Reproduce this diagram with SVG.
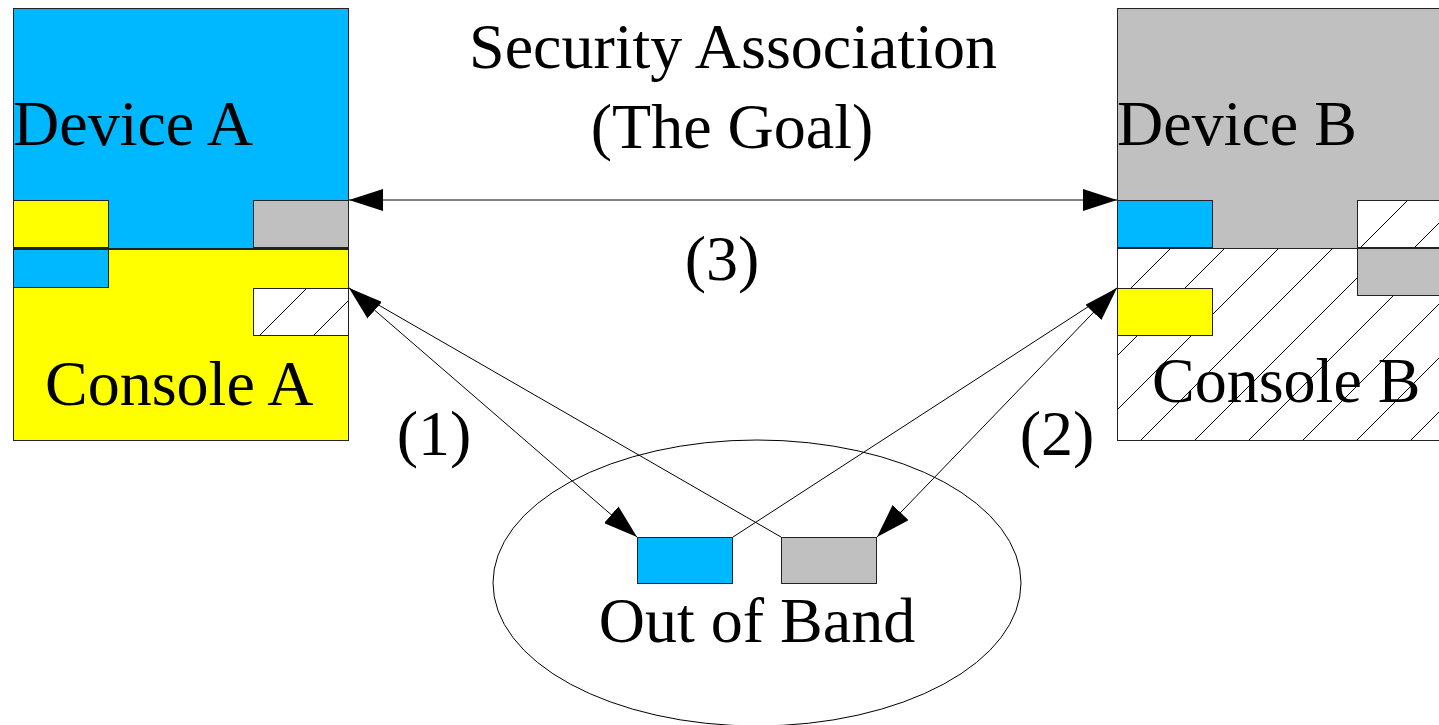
<svg xmlns="http://www.w3.org/2000/svg" width="1439" height="725" viewBox="0 0 1439 725">
<style>
  .t { font-family: "Liberation Serif", "Times New Roman", serif; font-size: 64px; fill: #000; }
  .m { text-anchor: middle; }
  .box { stroke: #222; stroke-width: 1; }
  .blue { fill: #00b8ff; }
  .yellow { fill: #ffff00; }
  .gray { fill: #c0c0c0; }
  .conn { stroke: #000; stroke-width: 1; fill: none; }
</style>
<defs>
  <pattern id="hatchA" patternUnits="userSpaceOnUse" x="1" y="0" width="54" height="54">
    <rect width="54" height="54" fill="#fff"/>
    <path d="M-5,5 L5,-5 M0,54 L54,0 M49,59 L59,49" stroke="#000" stroke-width="1"/>
  </pattern>
  <pattern id="hatchB" patternUnits="userSpaceOnUse" x="15" y="0" width="54" height="54">
    <rect width="54" height="54" fill="#fff"/>
    <path d="M-5,5 L5,-5 M0,54 L54,0 M49,59 L59,49" stroke="#000" stroke-width="1"/>
  </pattern>
  <pattern id="hatchC" patternUnits="userSpaceOnUse" x="42" y="0" width="54" height="54">
    <rect width="54" height="54" fill="#fff"/>
    <path d="M-5,5 L5,-5 M0,54 L54,0 M49,59 L59,49" stroke="#000" stroke-width="1"/>
  </pattern>
  <marker id="arr" markerUnits="userSpaceOnUse" markerWidth="34" markerHeight="22" refX="34" refY="11" orient="auto-start-reverse">
    <path d="M0,0 L34,11 L0,22 z" fill="#000"/>
  </marker>
</defs>

<g id="device-a">
  <rect class="box blue" x="13.5" y="8.5" width="335" height="240"/>
  <rect class="box yellow" x="13.5" y="200.5" width="95" height="47"/>
  <rect class="box gray" x="253.5" y="200.5" width="95" height="47"/>
  <text class="t" x="13" y="145">Device A</text>
</g>

<g id="console-a">
  <rect class="box yellow" x="13.5" y="249.5" width="335" height="191"/>
  <rect class="box blue" x="13.5" y="249.5" width="95" height="38"/>
  <rect class="box" fill="url(#hatchA)" x="253.5" y="288.5" width="95" height="47"/>
  <text class="t" x="45" y="405">Console A</text>
</g>

<g id="device-b">
  <rect class="box gray" x="1117.5" y="8.5" width="330" height="240"/>
  <rect class="box blue" x="1117.5" y="200.5" width="95" height="47"/>
  <rect class="box" fill="url(#hatchC)" x="1357.5" y="200.5" width="95" height="47"/>
  <text class="t" x="1117" y="145">Device B</text>
</g>

<g id="console-b">
  <rect class="box" fill="url(#hatchB)" x="1117.5" y="248.5" width="330" height="192"/>
  <rect class="box gray" x="1357.5" y="248.5" width="95" height="47"/>
  <rect class="box yellow" x="1117.5" y="288.5" width="95" height="47"/>
  <text class="t" x="1152" y="402">Console B</text>
</g>

<g id="out-of-band">
  <ellipse class="conn" cx="757" cy="583" rx="264" ry="143"/>
  <rect class="box blue" x="637.5" y="537.5" width="95" height="46"/>
  <rect class="box gray" x="781.5" y="537.5" width="95" height="46"/>
  <text class="t m" x="757" y="642">Out of Band</text>
</g>

<g id="connectors">
  <line class="conn" x1="349" y1="200" x2="1117" y2="200" marker-start="url(#arr)" marker-end="url(#arr)"/>
  <line class="conn" x1="349" y1="288" x2="637" y2="537" marker-start="url(#arr)" marker-end="url(#arr)"/>
  <line class="conn" x1="349" y1="288" x2="781" y2="537"/>
  <line class="conn" x1="1117" y1="288" x2="733" y2="537"/>
  <line class="conn" x1="1117" y1="288" x2="877" y2="537" marker-start="url(#arr)" marker-end="url(#arr)"/>
</g>

<g id="labels">
  <text class="t m" x="733" y="68">Security Association</text>
  <text class="t m" x="732" y="148">(The Goal)</text>
  <text class="t m" x="722" y="280">(3)</text>
  <text class="t m" x="434" y="455">(1)</text>
  <text class="t m" x="1057" y="455">(2)</text>
</g>
</svg>
